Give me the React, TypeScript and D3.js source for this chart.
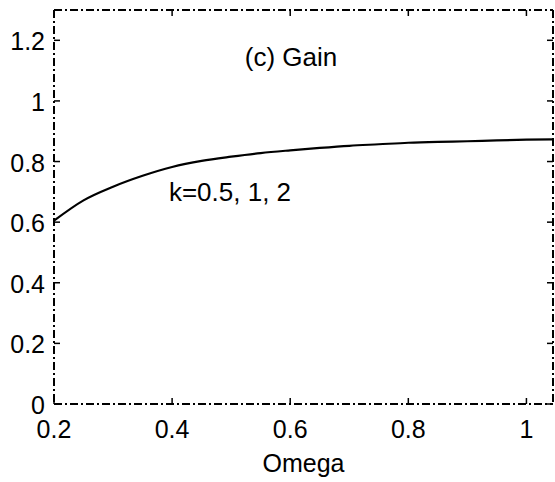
import React from "react";
import * as d3 from "d3";

const omega = [0.2, 0.25, 0.3, 0.35, 0.4, 0.45, 0.5, 0.55, 0.6, 0.65, 0.7, 0.75, 0.8, 0.85, 0.9, 0.95, 1.0, 1.045];
const gain = [0.605, 0.672, 0.717, 0.753, 0.782, 0.802, 0.816, 0.828, 0.837, 0.845, 0.852, 0.857, 0.862, 0.865, 0.867, 0.87, 0.872, 0.873];
const xTicks = [0.2, 0.4, 0.6, 0.8, 1];
const yTicks = [0, 0.2, 0.4, 0.6, 0.8, 1, 1.2];
const title = "(c) Gain";
const annotation = "k=0.5, 1, 2";
const xLabel = "Omega";

export default function App() {
  const W = 555, H = 482;
  const L = 54, R = 553, T = 10, B = 404;
  const x = d3.scaleLinear().domain([0.2, 1.045]).range([L, R]);
  const y = d3.scaleLinear().domain([0, 1.3]).range([B, T]);
  const pts = omega.map((o, i) => [o, gain[i]] as [number, number]);
  const line = d3.line<[number, number]>().x(d => x(d[0])).y(d => y(d[1])).curve(d3.curveMonotoneX);
  const font = "'Liberation Sans', Arial, sans-serif";
  const dash = "8,3,2,3";
  const tl = 6;
  return (
    <svg width={W} height={H} style={{ position: "absolute", left: 0, top: 0, background: "#fff" }}>
      <rect width={W} height={H} fill="#fff" />
      <path d={line(pts) || ""} fill="none" stroke="#000" strokeWidth={2.2} />
      <g stroke="#000" strokeWidth={2} strokeDasharray={dash} fill="none">
        <line x1={L} y1={T} x2={R} y2={T} />
        <line x1={L} y1={B} x2={R} y2={B} />
        <line x1={L} y1={T} x2={L} y2={B} />
        <line x1={R} y1={T} x2={R} y2={B} />
      </g>
      <g stroke="#000" strokeWidth={1.5}>
        {xTicks.map(t => (
          <g key={"xt" + t}>
            <line x1={x(t)} x2={x(t)} y1={B} y2={B - tl} />
            <line x1={x(t)} x2={x(t)} y1={T} y2={T + tl} />
          </g>
        ))}
        {yTicks.map(t => (
          <g key={"yt" + t}>
            <line x1={L} x2={L + tl} y1={y(t)} y2={y(t)} />
            <line x1={R} x2={R - tl} y1={y(t)} y2={y(t)} />
          </g>
        ))}
      </g>
      <g fontFamily={font} fontSize={25} fill="#000">
        {xTicks.map(t => (
          <text key={"xl" + t} x={x(t)} y={B + 34} textAnchor="middle">{d3.format("~g")(t)}</text>
        ))}
        {yTicks.map(t => (
          <text key={"yl" + t} x={L - 9} y={y(t) + 10} textAnchor="end">{d3.format("~g")(t)}</text>
        ))}
        <text x={(L + R) / 2} y={472} textAnchor="middle">{xLabel}</text>
        <text x={291} y={66} textAnchor="middle" fontSize={26}>{title}</text>
        <text x={230} y={201} textAnchor="middle" fontSize={26}>{annotation}</text>
      </g>
    </svg>
  );
}
